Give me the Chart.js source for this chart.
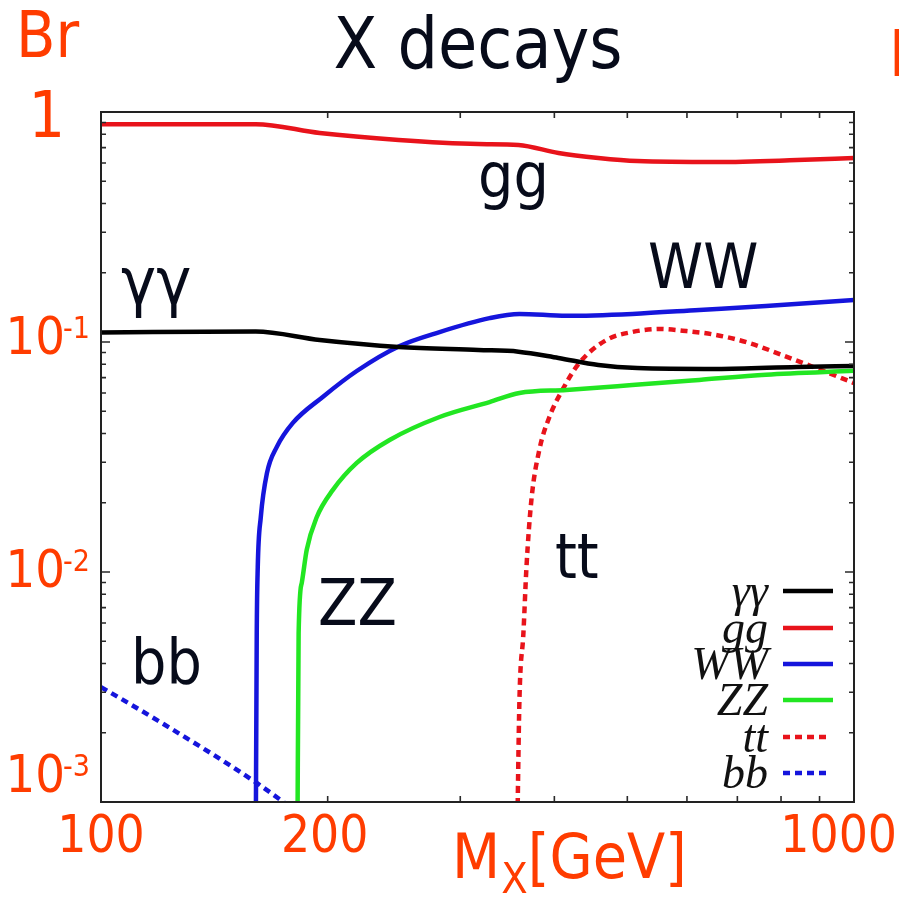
<!DOCTYPE html>
<html><head><meta charset="utf-8">
<script src="https://cdn.jsdelivr.net/npm/chart.js@4.4.1/dist/chart.umd.min.js"></script>
<style>html,body{margin:0;padding:0;background:#fff;overflow:hidden}canvas{display:block}</style>
</head><body>
<canvas id="c" width="899" height="897"></canvas>
<script>
// ---- data ----
const seriesLabels = ['γγ', 'gg', 'WW', 'ZZ', 'tt', 'bb'];

const massGammaGamma = [100, 160.5, 195.2, 248.5, 317, 358.4, 405, 457.6, 515.4, 658, 840.4, 1000];
const brGammaGamma   = [0.110, 0.111, 0.102, 0.0951, 0.0923, 0.0908, 0.0852, 0.0794, 0.0770, 0.0763, 0.0779, 0.0787];

const massGG = [100, 160.5, 195.2, 248.5, 317, 358.4, 405, 457.6, 515.4, 658, 840.4, 1000];
const brGG   = [0.885, 0.885, 0.810, 0.756, 0.726, 0.719, 0.663, 0.631, 0.612, 0.606, 0.618, 0.631];

const massWW = [160.5, 161.0, 161.5, 163.0, 166.1, 171.2, 179.8, 197.0, 218.6, 249.3, 281.6, 328.1, 359.5, 415, 507.6, 623, 764, 1000];
const brWW   = [0.0006, 0.0054, 0.0105, 0.0173, 0.0269, 0.035, 0.0445, 0.0577, 0.0748, 0.0961, 0.1105, 0.127, 0.1325, 0.130, 0.1325, 0.1378, 0.1433, 0.1523];

const massZZ = [182.3, 183.0, 184.8, 187.6, 193.4, 203.1, 218.6, 241.7, 281.6, 328.1, 359.5, 415, 507.6, 623, 764, 1000];
const brZZ   = [0.0006, 0.0054, 0.009, 0.0125, 0.0173, 0.0227, 0.0298, 0.0375, 0.0472, 0.0548, 0.060, 0.0619, 0.0650, 0.0684, 0.0720, 0.0749];

const massTT = [356.8, 359.5, 363.9, 367.3, 372.9, 382, 394, 410, 431.8, 469, 507.6, 551.3, 598.6, 656, 725.7, 802.6, 890.6, 1000];
const brTT   = [0.0006, 0.00278, 0.00543, 0.0105, 0.0206, 0.0339, 0.0472, 0.0619, 0.0811, 0.102, 0.1105, 0.1139, 0.1116, 0.1073, 0.099, 0.0878, 0.077, 0.0663];

const massBB = [100, 118.7, 161, 185];
const brBB   = [0.00316, 0.00227, 0.00121, 0.00087];

const xTickValues = [100, 200, 1000];
const xTickLabels = ['100', '200', '1000'];
const xInnerTicks = [200, 300, 400, 500, 600, 700, 800, 900];
const yTickValues = [1, 0.1, 0.01, 0.001];
const yTickMantissa = ['1', '10', '10', '10'];
const yTickExponents = ['', '-1', '-2', '-3'];

const titleText = 'X decays';
const yTitleText = 'Br';
const xTitleMain = 'M';
const xTitleSub = 'X';
const xTitleUnit = '[GeV]';

// ---- styles / layout ----
const SANS = '"DejaVu Sans Condensed", "DejaVu Sans", sans-serif';
const SERIF = '"Liberation Serif", "DejaVu Serif", serif';
const ORANGE = '#ff3c00';
const INK = '#070b1a';
const seriesStyle = [
  {color: '#000000', dash: []},
  {color: '#e8131b', dash: []},
  {color: '#1515dc', dash: []},
  {color: '#22e622', dash: []},
  {color: '#e8131b', dash: [7, 5]},
  {color: '#1515dc', dash: [7, 5]}
];
const annotationLayout = [
  {text: 'γγ', x: 121, y: 304, size: 66},
  {text: 'gg', x: 478, y: 197, size: 62},
  {text: 'WW', x: 648, y: 288, size: 62},
  {text: 'ZZ', x: 318, y: 625, size: 64},
  {text: 'tt', x: 555, y: 578, size: 62},
  {text: 'bb', x: 131, y: 683, size: 62}
];
const yLabelLayout = [ {dy: 25, size: 64}, {dy: 12, size: 52}, {dy: 15, size: 52}, {dy: -10, size: 52} ];
const xLabelLayout = [ {align: 'center', dx: 0}, {align: 'center', dx: -3}, {align: 'right', x: 897} ];
const legendRows = [591, 628, 664, 700, 737, 773];

function pts(xs, ys) { return xs.map((x, i) => ({x: x, y: ys[i]})); }
const seriesData = [
  pts(massGammaGamma, brGammaGamma), pts(massGG, brGG), pts(massWW, brWW),
  pts(massZZ, brZZ), pts(massTT, brTT), pts(massBB, brBB)
];

const datasets = seriesLabels.map((lab, i) => ({
  label: lab,
  data: seriesData[i],
  borderColor: seriesStyle[i].color,
  borderDash: seriesStyle[i].dash,
  borderWidth: 4.5,
  pointRadius: 0,
  fill: false,
  cubicInterpolationMode: 'monotone',
  clip: 0
}));

function setFont(ctx, size, family, style) {
  ctx.font = (style ? style + ' ' : '') + size + 'px ' + family;
}

const decor = {
  id: 'decor',
  afterDatasetsDraw(chart) {
    const ctx = chart.ctx;
    const {left, right, top, bottom} = chart.chartArea;
    const xs = chart.scales.x, ys = chart.scales.y;
    ctx.save();
    ctx.strokeStyle = '#2a2a2a';
    ctx.lineWidth = 1.6;
    ctx.setLineDash([]);
    ctx.beginPath();
    xInnerTicks.forEach(v => {
      const px = xs.getPixelForValue(v);
      ctx.moveTo(px, bottom); ctx.lineTo(px, bottom - 6);
      ctx.moveTo(px, top); ctx.lineTo(px, top + 6);
    });
    [0.001, 0.01, 0.1].forEach(dec => {
      for (let k = 1; k <= 9; k++) {
        const v = dec * k;
        if (v <= 0.001) continue;
        const py = ys.getPixelForValue(v);
        const len = k === 1 ? 9 : 5;
        ctx.moveTo(left, py); ctx.lineTo(left + len, py);
        ctx.moveTo(right, py); ctx.lineTo(right - len, py);
      }
    });
    ctx.stroke();
    ctx.lineWidth = 2;
    ctx.strokeStyle = '#222';
    ctx.strokeRect(left, top, right - left, bottom - top);

    // legend (drawn from datasets)
    chart.data.datasets.forEach((ds, i) => {
      const ry = legendRows[i];
      setFont(ctx, 46, SERIF, 'italic');
      ctx.fillStyle = '#111';
      ctx.textAlign = 'right';
      ctx.textBaseline = 'alphabetic';
      ctx.fillText(ds.label, 768, ry + 15);
      ctx.strokeStyle = ds.borderColor;
      ctx.lineWidth = 4.5;
      ctx.setLineDash(ds.borderDash || []);
      ctx.beginPath();
      const end = (ds.borderDash && ds.borderDash.length) ? 830 : 833;
      ctx.moveTo(783, ry); ctx.lineTo(end, ry);
      ctx.stroke();
    });
    ctx.setLineDash([]);
    ctx.restore();
  },
  afterDraw(chart) {
    const ctx = chart.ctx;
    const xs = chart.scales.x, ys = chart.scales.y;
    ctx.save();
    ctx.textBaseline = 'alphabetic';
    // title
    setFont(ctx, 71, SANS); ctx.fillStyle = INK; ctx.textAlign = 'center';
    ctx.fillText(titleText, 478, 68);
    // y title
    setFont(ctx, 64, SANS); ctx.fillStyle = ORANGE; ctx.textAlign = 'left';
    ctx.fillText(yTitleText, 16, 57);
    // clipped neighbour panel letter at the right edge
    ctx.fillText(yTitleText, 889, 76);
    // y tick labels
    yTickValues.forEach((v, i) => {
      const py = ys.getPixelForValue(v) + yLabelLayout[i].dy;
      setFont(ctx, yLabelLayout[i].size, SANS);
      ctx.fillStyle = ORANGE;
      ctx.textAlign = 'right';
      ctx.fillText(yTickMantissa[i], 65, py);
      if (yTickExponents[i]) {
        setFont(ctx, 30, SANS);
        ctx.textAlign = 'left';
        ctx.fillText(yTickExponents[i], 63, py - 16);
      }
    });
    // x tick labels
    setFont(ctx, 51, SANS); ctx.fillStyle = ORANGE;
    xTickValues.forEach((v, i) => {
      const L = xLabelLayout[i];
      ctx.textAlign = L.align;
      const px = L.x !== undefined ? L.x : xs.getPixelForValue(v) + L.dx;
      ctx.fillText(xTickLabels[i], px, 852);
    });
    // x title
    let x = 452;
    setFont(ctx, 62, SANS); ctx.textAlign = 'left';
    ctx.fillText(xTitleMain, x, 878);
    x += ctx.measureText(xTitleMain).width + 1;
    setFont(ctx, 43, SANS);
    ctx.fillText(xTitleSub, x, 893);
    x += ctx.measureText(xTitleSub).width;
    setFont(ctx, 62, SANS);
    ctx.fillText(xTitleUnit, x, 878);
    // curve annotations
    ctx.fillStyle = INK;
    annotationLayout.forEach(a => {
      setFont(ctx, a.size, SANS);
      ctx.fillText(a.text, a.x, a.y);
    });
    ctx.restore();
  }
};

new Chart(document.getElementById('c'), {
  type: 'line',
  data: {datasets: datasets},
  options: {
    responsive: false,
    animation: false,
    devicePixelRatio: 1,
    layout: {padding: {left: 101, right: 45, top: 112, bottom: 95}},
    plugins: {legend: {display: false}, title: {display: false}, tooltip: {enabled: false}},
    scales: {
      x: {type: 'logarithmic', min: 100, max: 1000, display: false},
      y: {type: 'logarithmic', min: 0.001, max: 1, display: false}
    }
  },
  plugins: [decor]
});
</script></body></html>
